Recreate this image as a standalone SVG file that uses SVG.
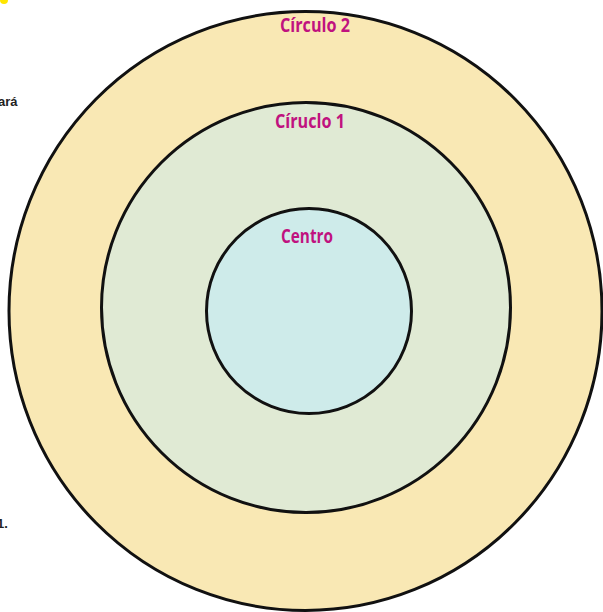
<svg xmlns="http://www.w3.org/2000/svg" width="603" height="612" viewBox="0 0 603 612">
<style>
.ring{stroke:#111;stroke-width:3}
.lbl{font-family:"Open Sans","Liberation Sans",sans-serif;font-weight:700;font-size:20px;fill:#C0127F;text-anchor:middle}
.side{font-family:"Liberation Sans",sans-serif;font-size:13px;font-weight:bold;fill:#222}
</style>
<rect width="603" height="612" fill="#fff"/>
<circle cx="4" cy="0" r="4" fill="#FFE600"/>
<text class="side" x="-2" y="106">ará</text>
<text class="side" x="-3" y="528">1.</text>
<g id="circulo2">
<ellipse class="ring" cx="305.5" cy="311" rx="296.5" ry="299.5" fill="#F9E8B4"/>
<text class="lbl" x="315" y="32" textLength="70" lengthAdjust="spacingAndGlyphs">Círculo 2</text>
</g>
<g id="circulo1">
<ellipse class="ring" cx="306" cy="307.5" rx="204.5" ry="205" fill="#E0EAD4"/>
<text class="lbl" x="310" y="128" textLength="70" lengthAdjust="spacingAndGlyphs">Círuclo 1</text>
</g>
<g id="centro">
<circle class="ring" cx="309" cy="311" r="102.5" fill="#CEEBEA"/>
<text class="lbl" x="307" y="243" textLength="52" lengthAdjust="spacingAndGlyphs">Centro</text>
</g>
<g id="connectors"/>
</svg>
